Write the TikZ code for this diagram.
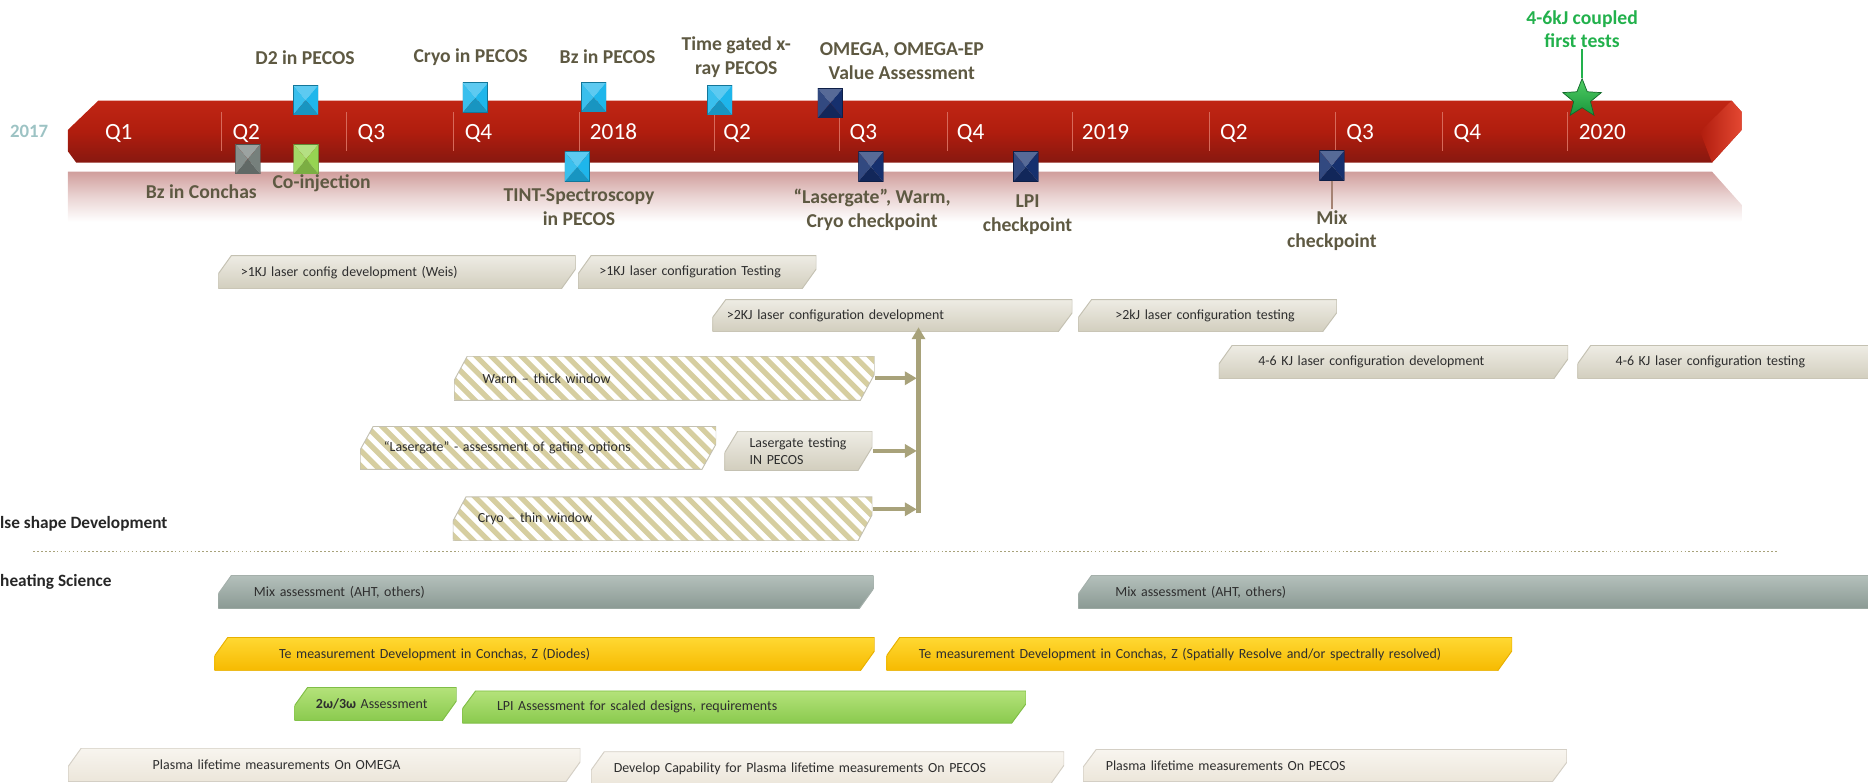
\documentclass[tikz,border=0pt]{standalone}
\usepackage{fontspec}
\setmainfont{Carlito}
\usetikzlibrary{calc,shapes.geometric,arrows.meta}

\definecolor{lbltxt}{RGB}{94,89,66}
\definecolor{startxt}{RGB}{34,177,76}
\definecolor{yeartxt}{RGB}{157,195,196}
\definecolor{flowc}{RGB}{168,162,122}
\definecolor{stripe}{RGB}{214,206,160}
\definecolor{bartop}{RGB}{192,38,20}
\definecolor{barmid}{RGB}{176,29,14}
\definecolor{barbot}{RGB}{135,24,16}
\definecolor{barfacet}{RGB}{228,72,50}
\definecolor{barline}{RGB}{215,105,90}
\definecolor{refl}{RGB}{208,158,156}
\definecolor{mixline}{RGB}{165,130,115}
\definecolor{starhi}{RGB}{80,205,100}
\definecolor{starlo}{RGB}{25,150,60}
\definecolor{msblue}{RGB}{30,182,235}
\definecolor{msnavy}{RGB}{22,48,110}
\definecolor{msgray}{RGB}{118,128,124}
\definecolor{msgreen}{RGB}{150,212,82}
\definecolor{beigetop}{RGB}{238,236,228}
\definecolor{beigebot}{RGB}{210,206,190}
\definecolor{beigeedge}{RGB}{196,193,178}
\definecolor{graytop}{RGB}{180,192,187}
\definecolor{graybot}{RGB}{138,153,147}
\definecolor{grayedge}{RGB}{165,176,171}
\definecolor{goldtop}{RGB}{255,216,50}
\definecolor{goldbot}{RGB}{246,186,0}
\definecolor{goldedge}{RGB}{232,176,0}
\definecolor{greentop}{RGB}{180,226,122}
\definecolor{greenbot}{RGB}{138,202,78}
\definecolor{greenedge}{RGB}{128,190,70}
\definecolor{creamtop}{RGB}{248,245,239}
\definecolor{creambot}{RGB}{236,230,218}
\definecolor{creamedge}{RGB}{212,207,197}

\begin{document}
\begin{tikzpicture}[x=1pt,y=-1pt,>={Triangle[length=10pt,width=11pt]},
		chevpath/.style={insert path={($(pnw)+(11,0)$) -- (pnw -| pse) -- ($(pnw -| pse)!0.4!(pse)$)
			-- ($(pse)+(-12,0)$) -- (pnw |- pse) -- ($(pnw)!0.55!(pnw |- pse)$) -- cycle}},
		taskbase/.style={anchor=west, inner ysep=0pt, align=left, draw, draw opacity=0,
			font=\fontsize{11.7}{14}\selectfont, text=black!82},
		chev/.style={taskbase, path picture={
			\coordinate (pnw) at (path picture bounding box.north west);
			\coordinate (pse) at (path picture bounding box.south east);
			\shade[top color=#1top, bottom color=#1bot, draw=#1edge, draw opacity=1, line width=0.8pt, chevpath];}},
		hatch/.style={taskbase, path picture={
			\coordinate (pnw) at (path picture bounding box.north west);
			\coordinate (pse) at (path picture bounding box.south east);
			\fill[white, chevpath];
			\begin{scope}
				\clip[chevpath];
				\foreach \k in {-50,-37.3,...,400}
					\draw[stripe, draw opacity=1, line width=4.4pt] ($(pnw)+(\k,-5)$) -- ++(50,50);
			\end{scope}
			\draw[beigeedge, draw opacity=1, line width=0.8pt, chevpath];}},
		ms/.style={minimum width=21pt, minimum height=25pt, inner sep=0pt, draw, draw opacity=0,
			path picture={
			\coordinate (pnw) at (path picture bounding box.north west);
			\coordinate (pse) at (path picture bounding box.south east);
			\coordinate (pc) at (path picture bounding box.center);
			\fill[#1!72!white] (pnw) -- (pnw -| pse) -- (pc) -- cycle;
			\fill[#1!88!white] (pnw) -- (pnw |- pse) -- (pc) -- cycle;
			\fill[#1] (pnw -| pse) -- (pse) -- (pc) -- cycle;
			\fill[#1!82!black] (pnw |- pse) -- (pse) -- (pc) -- cycle;
			\draw[#1!65!black, draw opacity=1, line width=0.7pt] (pnw) rectangle (pse);}}]
	\tikzstyle{lbl}=[font=\bfseries\fontsize{16.5}{19.8}\selectfont, text=lbltxt, align=center, inner sep=1pt]
	\tikzstyle{qtr}=[font=\fontsize{19.5}{22}\selectfont, text=white, anchor=base west, inner sep=0pt]
	\tikzstyle{flow}=[->, draw=flowc, line width=3.5pt]
	\tikzstyle{divline}=[draw=barline, line width=0.8pt]
	\tikzstyle{side}=[font=\bfseries\fontsize{14.5}{17}\selectfont, text=black!85, anchor=west, inner sep=0pt]

	\useasboundingbox (0,0) rectangle (1568,657);

	% timeline
	\shade[top color=refl, bottom color=white, middle color=refl!45!white] (57,144) -- (1437,144) -- (1462,172)
		-- (1462,186) -- (57,186) -- cycle;
	\shade[top color=bartop, bottom color=barbot, middle color=barmid] (82.5,84.5) -- (1453.5,84.5) -- (1462,94)
		-- (1462,109) -- (1437,136.5) -- (64,136.5) -- (57,127) -- (57,109) -- cycle;
	\shade[left color=barmid, right color=barfacet] (1427,110.5) -- (1453.5,84.5) -- (1462,94) -- (1462,109) -- (1437,136.5) -- cycle;

	\draw[divline] (186,94) -- (186,127);
	\draw[divline] (291,94) -- (291,127);
	\draw[divline] (381,94) -- (381,127);
	\draw[divline] (486,94) -- (486,127);
	\draw[divline] (600,94) -- (600,127);
	\draw[divline] (705,94) -- (705,127);
	\draw[divline] (795,94) -- (795,127);
	\draw[divline] (900,94) -- (900,127);
	\draw[divline] (1015,94) -- (1015,127);
	\draw[divline] (1121,94) -- (1121,127);
	\draw[divline] (1211,94) -- (1211,127);
	\draw[divline] (1316,94) -- (1316,127);

	\node[font=\bfseries\fontsize{15.8}{18}\selectfont, text=yeartxt] (y17) at (24.5,110.5) {2017};
	\node[qtr] (q1a) at (88,117.5) {Q1};
	\node[qtr] (q2a) at (195,117.5) {Q2};
	\node[qtr] (q3a) at (300,117.5) {Q3};
	\node[qtr] (q4a) at (390,117.5) {Q4};
	\node[qtr] (y18) at (495,117.5) {2018};
	\node[qtr] (q2b) at (607,117.5) {Q2};
	\node[qtr] (q3b) at (713,117.5) {Q3};
	\node[qtr] (q4b) at (803,117.5) {Q4};
	\node[qtr] (y19) at (908,117.5) {2019};
	\node[qtr] (q2c) at (1024,117.5) {Q2};
	\node[qtr] (q3c) at (1130,117.5) {Q3};
	\node[qtr] (q4c) at (1220,117.5) {Q4};
	\node[qtr] (y20) at (1325,117.5) {2020};

	% milestones
	\node[ms=msblue] (d2sq) at (256.6,84) {};
	\node[ms=msblue] (cryosq) at (399,82) {};
	\node[ms=msblue] (bzpsq) at (498.3,81.5) {};
	\node[ms=msblue] (tgxsq) at (604,84) {};
	\node[ms=msnavy] (omegasq) at (697,86.5) {};
	\node[ms=msgray] (bzcsq) at (208,133.5) {};
	\node[ms=msgreen] (coinjsq) at (257,133.5) {};
	\node[ms=msblue] (tintsq) at (484.6,140) {};
	\node[ms=msnavy] (lgsq) at (731,140) {};
	\node[ms=msnavy] (lpisq) at (861,140) {};
	\node[ms=msnavy] (mixsq) at (1118,139) {};
	\node[star, star points=5, star point ratio=2.3, minimum size=34pt, inner sep=0pt, top color=starhi,
		bottom color=starlo, draw=starlo!70!black, line width=0.6pt] (star) at (1328,83) {};

	\node[lbl] (d2lbl) at (256,48) {D2 in PECOS};
	\node[lbl] (cryolbl) at (395,48) {Cryo in PECOS};
	\node[lbl] (bzplbl) at (510,47.5) {Bz in PECOS};
	\node[lbl] (tgxlbl) at (618,48) {Time gated x-\\ray PECOS};
	\node[lbl] (omegalbl) at (757,51.5) {OMEGA, OMEGA-EP\\Value Assessment};
	\node[lbl] (bzclbl) at (169,161) {Bz in Conchas};
	\node[lbl] (coinjlbl) at (270,154) {Co-injection};
	\node[lbl] (tintlbl) at (486,174) {TINT-Spectroscopy\\in PECOS};
	\node[lbl] (lglbl) at (732,176) {“Lasergate”, Warm,\\Cryo checkpoint};
	\node[lbl] (lpilbl) at (862.5,180) {LPI\\checkpoint};
	\node[lbl] (mixlbl) at (1118,193.5) {Mix\\checkpoint};
	\node[lbl, text=startxt] (starlbl) at (1328,24.5) {4-6kJ coupled\\first tests};

	\draw[draw=startxt, line width=1.2pt] (star) -- (starlbl);
	\draw[draw=mixline, line width=1pt] (mixsq) -- (mixlbl);

	% laser configuration tasks
	\node[chev=beige, minimum width=300, minimum height=28, inner xsep=19, text width=262] (cfgdev1) at (183,228.5) {>1KJ laser config development (Weis)};
	\node[chev=beige, minimum width=200, minimum height=28, inner xsep=18, text width=164] (cfgtest1) at (485,228.5) {>1KJ laser configuration Testing};
	\node[chev=beige, minimum width=302, minimum height=27, inner xsep=12, text width=278] (cfgdev2) at (598,265) {>2KJ laser configuration development};
	\node[chev=beige, minimum width=217, minimum height=27, inner xsep=31, text width=155] (cfgtest2) at (905,265) {>2kJ laser configuration testing};
	\node[chev=beige, minimum width=293, minimum height=28, inner xsep=33, text width=227] (cfgdev46) at (1023,304) {4-6 KJ laser configuration development};
	\node[chev=beige, minimum width=300, minimum height=28, inner xsep=32, text width=236] (cfgtest46) at (1324,304) {4-6 KJ laser configuration testing};

	\node[hatch, minimum width=353, minimum height=37, inner xsep=24, text width=305] (warm) at (381,317.5) {Warm – thick window};
	\node[hatch, minimum width=299, minimum height=36, inner xsep=20, text width=259] (lgassess) at (302,376) {“Lasergate”  - assessment of gating options};
	\node[chev=beige, minimum width=124, minimum height=33, inner xsep=21, text width=82] (lgtest) at (608,378.5) {Lasergate testing\\IN PECOS};
	\node[hatch, minimum width=352, minimum height=37, inner xsep=21, text width=310] (cryo) at (380,435.5) {Cryo – thin window};

	\coordinate (trunk) at (771,431);
	\coordinate (cryoout) at ([yshift=8pt]cryo.east);
	\draw[flow, shorten >=-4pt] (trunk) -- (trunk |- cfgdev2.south);
	\draw[flow, shorten >=1.5pt] (warm.east) -- (warm.east -| trunk);
	\draw[flow, shorten >=1.5pt] (lgtest.east) -- (lgtest.east -| trunk);
	\draw[flow, shorten >=1.5pt] (cryoout) -- (cryoout -| trunk);

	\node[side] (pulselbl) at (0,440) {lse shape Development};
	\draw[dotted, line width=1.3pt, draw=flowc] (28,463) -- (1493,463);
	\node[side] (heatlbl) at (0,488.5) {heating Science};

	% preheating science tasks
	\node[chev=gray, minimum width=550, minimum height=28, inner xsep=30, text width=490] (mix1) at (183,497) {Mix assessment (AHT, others)};
	\node[chev=gray, minimum width=700, minimum height=28, inner xsep=31, text width=638] (mix2) at (905,497) {Mix assessment (AHT, others)};
	\node[chev=gold, minimum width=554, minimum height=28, inner xsep=54, text width=446] (te1) at (180,549) {Te measurement Development in Conchas, Z (Diodes)};
	\node[chev=gold, minimum width=525, minimum height=28, inner xsep=27, text width=471] (te2) at (744,549) {Te measurement Development in Conchas, Z (Spatially Resolve and/or spectrally resolved)};
	\node[chev=green, minimum width=136, minimum height=28, inner xsep=18, text width=100] (lpiw) at (247,591) {{\bfseries 2ω/3ω} Assessment};
	\node[chev=green, minimum width=473, minimum height=27, inner xsep=29, text width=415] (lpiscale) at (388,593.5) {LPI Assessment for scaled designs, requirements};
	\node[chev=cream, minimum width=430, minimum height=28, inner xsep=71, text width=288] (plomega) at (57,642) {Plasma lifetime measurements On OMEGA};
	\node[chev=cream, minimum width=397, minimum height=28, inner xsep=19, text width=359] (pldev) at (496,645) {Develop Capability for Plasma lifetime measurements On PECOS};
	\node[chev=cream, minimum width=406, minimum height=27, inner xsep=19, text width=368] (plpecos) at (909,642.5) {Plasma lifetime measurements On PECOS};
\end{tikzpicture}
\end{document}
